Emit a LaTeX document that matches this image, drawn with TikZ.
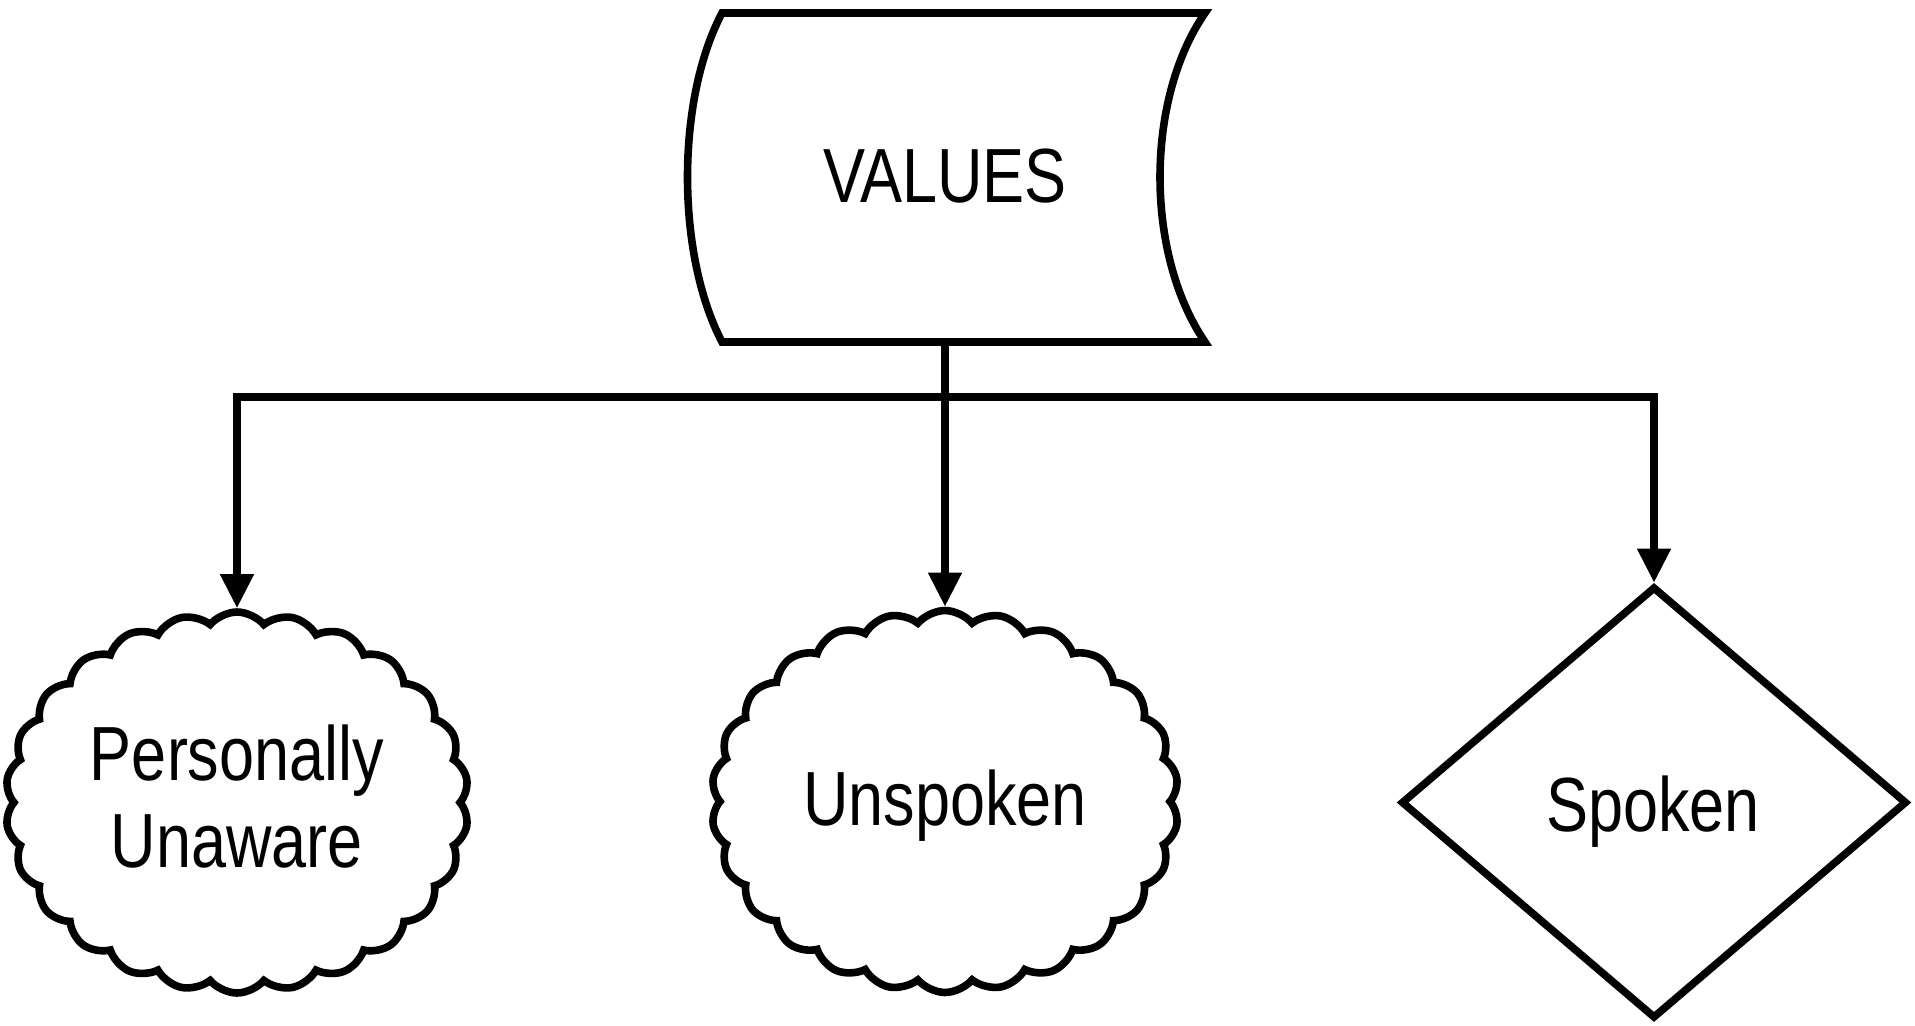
\documentclass[tikz,border=0pt]{standalone}
\usepackage{fontspec}
\setmainfont{Liberation Sans}[FakeStretch=0.82]
\usetikzlibrary{shapes.symbols,shapes.geometric,arrows.meta}
\begin{document}
\begin{tikzpicture}[x=0.5pt,y=-0.5pt,
  every node/.style={font=\fontsize{38.4}{43.5}\selectfont},
  shapeline/.style={line width=3.8pt, draw=black},
  cloudbox/.style={cloud, cloud puffs=26, cloud puff arc=100, cloud ignores aspect, draw, line width=3.8pt, inner sep=0pt, fill=white},
  decision/.style={diamond, draw, line width=3.8pt, inner sep=0pt, minimum width=253pt, minimum height=216pt},
  lbl/.style={align=center, inner sep=0pt},
  conn/.style={line width=3.8pt},
  arr/.style={conn, -{Triangle[length=17pt,width=16pt]}}
]
\useasboundingbox (0,0) rectangle (1915,1026);

% top shape (stored data)
\draw[shapeline] (722,13) -- (1205,13) .. controls (1145,100) and (1145,254) .. (1205,342)
  -- (722,342) .. controls (676,254) and (676,100) .. (722,13) -- cycle;
\node[lbl, anchor=base] (values) at (945,203) {VALUES};
\coordinate (vb) at (945,342);
\coordinate (j) at (945,397);

% targets
\node[cloudbox, minimum width=231.5pt, minimum height=190.5pt] (pu) at (237,802.5) {};
\node[lbl] (pul) at (237,797) {Personally\\Unaware};

\node[cloudbox, minimum width=233.5pt, minimum height=191pt] (un) at (945,801.5) {};
\node[lbl, anchor=base] (unl) at (945,825) {Unspoken};

\node[decision] (sp) at (1654,802.5) {};
\node[lbl, anchor=base] (spl) at (1653,831) {Spoken};

% connectors
\draw[conn] (vb) -- (j);
\draw[arr] (j) -| (pu.north);
\draw[arr] (j) -| (sp.north);
\draw[arr] (j) -- (un.north);
\end{tikzpicture}
\end{document}
